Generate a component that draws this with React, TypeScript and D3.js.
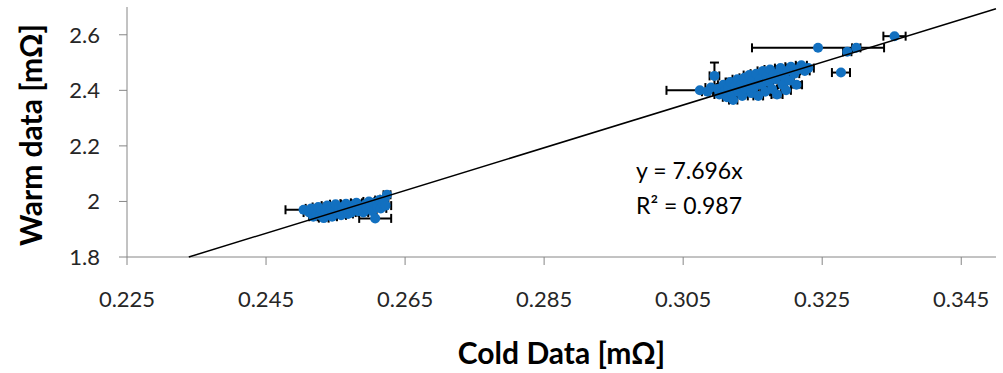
import React from "react";
import * as d3 from "d3";

// x value, y value, x error (±), y error (±)
const coldLow: number[] = [0.2504,0.2512,0.2515,0.2518,0.2520,0.2523,0.2525,0.2528,0.2530,0.2533,0.2535,0.2538,0.2540,0.2543,0.2545,0.2548,0.2550,0.2553,0.2555,0.2558,0.2560,0.2563,0.2565,0.2568,0.2570,0.2573,0.2575,0.2578,0.2580,0.2583,0.2585,0.2590,0.2593,0.2595,0.2598,0.2600,0.2603,0.2607,0.2605,0.2610,0.2613,0.2615,0.2618,0.2620,0.2622,0.2624];
const warmLow: number[] = [1.970,1.960,1.975,1.945,1.965,1.955,1.980,1.950,1.970,1.940,1.962,1.985,1.955,1.972,1.945,1.965,1.990,1.958,1.975,1.950,1.980,1.965,1.992,1.955,1.975,1.960,1.985,1.970,1.995,1.965,1.980,1.960,1.990,1.975,2.000,1.985,1.965,1.939,1.995,1.980,2.005,1.975,1.990,2.008,1.985,2.024];
const xErrLow: number[] = [0.0026,0.0008,0.0008,0.0006,0.0008,0.0007,0.0008,0.0006,0.0008,0.0007,0.0008,0.0008,0.0006,0.0008,0.0007,0.0008,0.0008,0.0006,0.0008,0.0007,0.0008,0.0006,0.0008,0.0007,0.0008,0.0006,0.0008,0.0007,0.0008,0.0006,0.0008,0.0007,0.0008,0.0006,0.0008,0.0007,0.0006,0.0023,0.0008,0.0007,0.0006,0.0008,0.0007,0.0006,0.0008,0.0005];
const yErrLow: number[] = [0,0,0,0,0,0,0,0,0.008,0,0,0,0,0,0,0,0,0,0,0,0,0,0,0,0,0,0,0,0,0,0,0,0,0,0,0,0,0,0,0,0,0,0,0,0,0];

const coldHigh: number[] = [0.3074,0.3085,0.3090,0.3095,0.3100,0.3102,0.3108,0.3110,0.3113,0.3115,0.3118,0.3120,0.3122,0.3125,0.3128,0.3130,0.3133,0.3135,0.3138,0.3140,0.3143,0.3145,0.3148,0.3150,0.3152,0.3155,0.3158,0.3160,0.3163,0.3165,0.3168,0.3170,0.3173,0.3175,0.3178,0.3180,0.3183,0.3185,0.3188,0.3190,0.3193,0.3195,0.3198,0.3200,0.3203,0.3205,0.3210,0.3213,0.3215,0.3220,0.3225,0.3230,0.3244,0.3286,0.3299,0.3277,0.3354];
const warmHigh: number[] = [2.400,2.395,2.410,2.452,2.405,2.385,2.420,2.398,2.375,2.410,2.430,2.390,2.365,2.415,2.440,2.395,2.420,2.380,2.445,2.405,2.425,2.455,2.390,2.435,2.410,2.460,2.380,2.440,2.420,2.470,2.395,2.450,2.430,2.475,2.405,2.455,2.440,2.385,2.465,2.480,2.420,2.450,2.400,2.470,2.435,2.485,2.460,2.420,2.475,2.490,2.470,2.480,2.553,2.539,2.553,2.464,2.595];
const xErrHigh: number[] = [0.0048,0.0008,0.0008,0.0007,0.0008,0.0007,0.0008,0.0008,0.0006,0.0008,0.0007,0.0008,0.0006,0.0008,0.0007,0.0008,0.0006,0.0008,0.0007,0.0008,0.0006,0.0008,0.0007,0.0008,0.0006,0.0008,0.0007,0.0008,0.0006,0.0008,0.0007,0.0008,0.0006,0.0008,0.0007,0.0008,0.0006,0.0008,0.0007,0.0008,0.0006,0.0008,0.0007,0.0008,0.0006,0.0008,0.0007,0.0008,0.0006,0.0008,0.0007,0.0008,0.0095,0.0006,0.0006,0.0013,0.0016];
const yErrHigh: number[] = [0,0,0,0.048,0,0,0,0,0,0,0.012,0,0,0,0,0,0,0,0,0,0,0,0,0,0,0,0,0,0,0,0,0,0,0,0,0,0,0.01,0,0,0,0,0,0,0,0,0,0.01,0,0,0,0,0,0,0,0,0];

const xTicks: number[] = [0.225, 0.245, 0.265, 0.285, 0.305, 0.325, 0.345];
const yTicks: number[] = [1.8, 2.0, 2.2, 2.4, 2.6];
const slope = 7.696;
const r2 = 0.987;

const W = 1003, H = 373;
const left = 127, right = 996, top = 7, bottom = 257;
const FONT = "Lato, 'Open Sans', sans-serif";

export default function App() {
  const x = d3.scaleLinear().domain([0.225, 0.35]).range([left, right]);
  const y = d3.scaleLinear().domain([1.8, 2.7]).range([bottom, top]);

  const pts = [
    ...coldLow.map((c, i) => ({ c, w: warmLow[i], ex: xErrLow[i], ey: yErrLow[i] })),
    ...coldHigh.map((c, i) => ({ c, w: warmHigh[i], ex: xErrHigh[i], ey: yErrHigh[i] })),
  ];

  const x0 = 1.8 / slope;
  const x1 = Math.min(0.35, 2.7 / slope);
  const line = d3.line<[number, number]>().x(d => x(d[0])).y(d => y(d[1]));
  const cap = 4.5;
  const fmtY = (v: number) => (v === 2 ? "2" : d3.format(".1f")(v));

  return (
    <svg width={W} height={H} style={{ position: "absolute", left: 0, top: 0, background: "#fff" }}>
      {/* axes */}
      <line x1={left} x2={left} y1={top} y2={bottom} stroke="#868686" strokeWidth={1} />
      <line x1={left} x2={right} y1={bottom} y2={bottom} stroke="#868686" strokeWidth={1} />
      {yTicks.map(t => (
        <g key={"y" + t}>
          <line x1={left - 8} x2={left} y1={y(t)} y2={y(t)} stroke="#868686" />
          <text x={left - 27} y={y(t)} dy="0.36em" textAnchor="end" fontFamily={FONT} fontSize={22} fill="#262626">{fmtY(t)}</text>
        </g>
      ))}
      {xTicks.map(t => (
        <g key={"x" + t}>
          <line x1={x(t)} x2={x(t)} y1={bottom} y2={bottom + 8} stroke="#868686" />
          <text x={x(t)} y={bottom + 50} textAnchor="middle" fontFamily={FONT} fontSize={22} fill="#262626">{d3.format(".3f")(t)}</text>
        </g>
      ))}
      {/* error bars */}
      {pts.map((p, i) => (
        <g key={"e" + i} stroke="#000" strokeWidth={2}>
          <line x1={x(p.c - p.ex)} x2={x(p.c + p.ex)} y1={y(p.w)} y2={y(p.w)} />
          <line x1={x(p.c - p.ex)} x2={x(p.c - p.ex)} y1={y(p.w) - cap} y2={y(p.w) + cap} />
          <line x1={x(p.c + p.ex)} x2={x(p.c + p.ex)} y1={y(p.w) - cap} y2={y(p.w) + cap} />
          {p.ey > 0 && (
            <>
              <line x1={x(p.c)} x2={x(p.c)} y1={y(p.w - p.ey)} y2={y(p.w + p.ey)} />
              <line x1={x(p.c) - cap} x2={x(p.c) + cap} y1={y(p.w + p.ey)} y2={y(p.w + p.ey)} />
              <line x1={x(p.c) - cap} x2={x(p.c) + cap} y1={y(p.w - p.ey)} y2={y(p.w - p.ey)} />
            </>
          )}
        </g>
      ))}
      {/* markers */}
      {pts.map((p, i) => (
        <circle key={"p" + i} cx={x(p.c)} cy={y(p.w)} r={5} fill="#1270c0" />
      ))}
      {/* trend line */}
      <path d={line([[x0, slope * x0], [x1, slope * x1]]) || ""} stroke="#000" strokeWidth={1.5} fill="none" />
      {/* equation */}
      <text x={636} y={179} fontFamily={FONT} fontSize={23} fill="#000">{`y = ${slope}x`}</text>
      <text x={636} y={214} fontFamily={FONT} fontSize={23} fill="#000">{`R² = ${r2}`}</text>
      {/* axis titles */}
      <text x={(left + right) / 2} y={364} textAnchor="middle" fontFamily={FONT} fontWeight="bold" fontSize={30} fill="#000">Cold Data [mΩ]</text>
      <text transform={`translate(42,${(top + bottom) / 2 + 3}) rotate(-90)`} textAnchor="middle" fontFamily={FONT} fontWeight="bold" fontSize={30} fill="#000">Warm data [mΩ]</text>
    </svg>
  );
}
